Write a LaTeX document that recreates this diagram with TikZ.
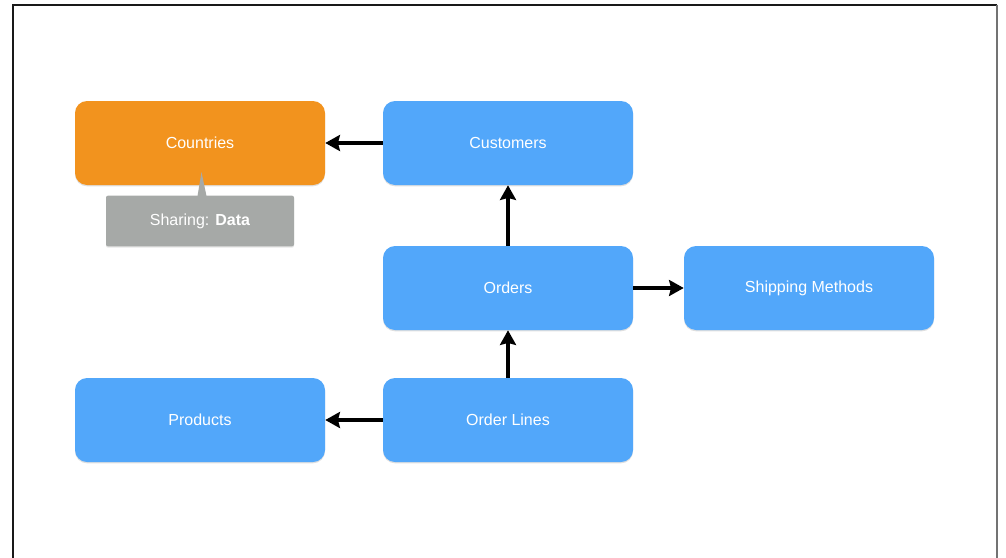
\documentclass[tikz,border=0pt]{standalone}
\usepackage{fontspec}
\setmainfont{Liberation Sans}
\usetikzlibrary{arrows.meta,shadows}
\definecolor{arancio}{RGB}{242,147,30}
\definecolor{azzurro}{RGB}{82,167,250}
\definecolor{grigio}{RGB}{166,169,167}
\begin{document}
\begin{tikzpicture}[x=0.75pt,y=-0.75pt,
    box/.style={rectangle, rounded corners=9pt, minimum width=187.5pt, minimum height=63pt,
      fill=azzurro, text=white, font=\fontsize{12}{14}\selectfont,
      drop shadow={opacity=0.25, shadow xshift=0pt, shadow yshift=-1pt}},
    freccia/.style={line width=2.3pt, -{Stealth[length=11pt,width=12pt,inset=1.5pt]}}]
        \useasboundingbox (0,0) rectangle (1006,557);
        % Cornice
        \draw[line width=1.5pt, black!90] (12.5,560) -- (12.5,4.5) -- (997,4.5);
        \draw[line width=1.8pt, black!55] (997,4.5) -- (997,560);

        % Livello superiore
        \node[box, fill=arancio] (C) at (200,143) {Countries};
        \node[box] (U) at (508,143) {Customers};

        % Livello centrale
        \node[box] (O) at (508,288) {Orders};
        \node[box] (S) at (809,288) {Shipping Methods};

        % Livello inferiore
        \node[box] (P) at (200,420) {Products};
        \node[box] (L) at (508,420) {Order Lines};

        % Nota
        \node[rectangle, rounded corners=1.5pt, fill=grigio, text=white, minimum width=141pt, minimum height=38pt,
          font=\fontsize{12}{14}\selectfont,
          drop shadow={opacity=0.2, shadow xshift=0pt, shadow yshift=-1pt}] (N) at (200,221) {Sharing: \textbf{Data}};
        \fill[grigio] (197.5,196) -- (201.5,172) -- (206.5,196) -- cycle;

        % Collegamenti
        \draw[freccia] (U) -- (C);
        \draw[freccia] (O) -- (U);
        \draw[freccia] (O) -- (S);
        \draw[freccia] (L) -- (O);
        \draw[freccia] (L) -- (P);
    \end{tikzpicture}
\end{document}
